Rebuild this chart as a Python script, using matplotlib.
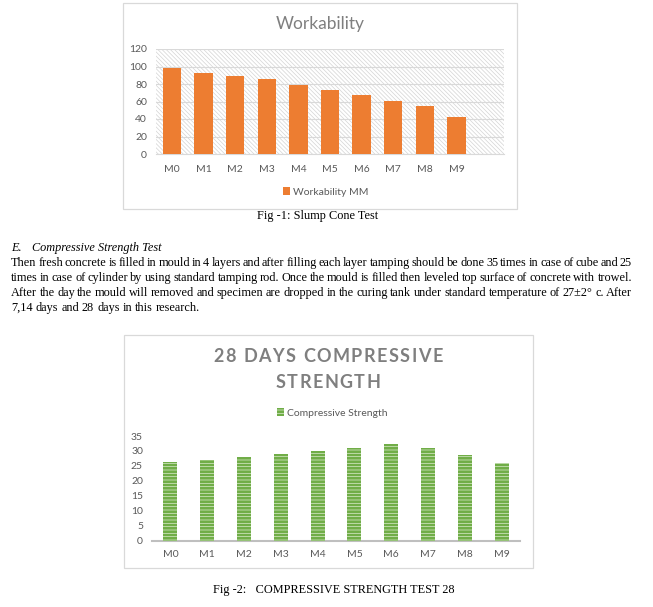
import matplotlib
matplotlib.use("Agg")
import matplotlib.pyplot as plt
from matplotlib.patches import Rectangle

mixes = ["M0", "M1", "M2", "M3", "M4", "M5", "M6", "M7", "M8", "M9"]
workability = [98, 93, 89, 86, 79, 73, 67, 61, 55, 42]
strength = [26.3, 27.0, 28.0, 29.0, 30.0, 31.0, 32.3, 31.0, 28.6, 26.0]
work_ticks = [0, 20, 40, 60, 80, 100, 120]
strength_ticks = [0, 5, 10, 15, 20, 25, 30, 35]

body_lines = [
    "Then fresh concrete is filled in mould in 4 layers and after filling each layer tamping should be done 35 times in case of cube and 25",
    "times in case of cylinder by using standard tamping rod. Once the mould is filled then leveled top surface of concrete with trowel.",
    "After the day the mould will removed and specimen are dropped in the curing tank under standard temperature of 27\u00b12\u00b0 c. After",
    "7,14 days and 28 days in this research.",
]

W, H = 653, 607
GREY_TXT = "#595959"
GRID = "#d9d9d9"
ORANGE = "#ED7D31"
GREEN = "#70AD47"
SANS = ["Lato", "DejaVu Sans"]
SERIF = ["Liberation Serif", "DejaVu Serif"]
BODY_SIZE = 8.8

fig = plt.figure(figsize=(W / 100, H / 100), dpi=100)
fig.patch.set_facecolor("white")
renderer = fig.canvas.get_renderer()


def px_axes(x0, y0, x1, y1):
    # pixel box (top-left origin) -> figure axes
    return fig.add_axes([x0 / W, 1 - y1 / H, (x1 - x0) / W, (y1 - y0) / H])


def px_box(x0, y0, x1, y1):
    fig.add_artist(Rectangle((x0 / W, 1 - y1 / H), (x1 - x0) / W, (y1 - y0) / H,
                             transform=fig.transFigure, facecolor="none",
                             edgecolor=GRID, linewidth=0.9))


def fy(y):
    return 1 - y / H


def spaced_text(xc, y, s, track, **kw):
    # letter-spaced text centred on xc (pixels)
    texts = [fig.text(0, fy(y), c, ha="left", va="center", **kw) for c in s]
    widths = [t.get_window_extent(renderer).width for t in texts]
    total = sum(widths) + track * (len(s) - 1)
    x = xc - total / 2
    for t, w in zip(texts, widths):
        t.set_x(x / W)
        x += w + track


# ---- Fig 1: workability ----
px_box(123, 3, 517, 209)
ax1 = px_axes(156, 49, 504, 154)
plt.rcParams["hatch.linewidth"] = 0.5
ax1.add_patch(Rectangle((0, 0), 1, 1, transform=ax1.transAxes, facecolor="white",
                        edgecolor="#d4d4d4", hatch="\\\\\\\\\\\\\\\\", linewidth=0, zorder=0))
ax1.bar(range(len(mixes)), workability, width=0.58, color=ORANGE, zorder=3,
        label="Workability MM")
ax1.set_xlim(-0.5, 10.5)
ax1.set_ylim(0, 120)
ax1.set_yticks(work_ticks)
ax1.set_xticks(range(len(mixes)))
ax1.set_xticklabels(mixes)
ax1.yaxis.grid(True, color=GRID, linewidth=0.8, zorder=1)
ax1.set_axisbelow(True)
for s in ["top", "right", "left"]:
    ax1.spines[s].set_visible(False)
ax1.spines["bottom"].set_color(GRID)
ax1.tick_params(length=0, colors=GREY_TXT, labelsize=7.5)
ax1.tick_params(axis="x", pad=8)
ax1.tick_params(axis="y", pad=6.5)
for lab in ax1.get_xticklabels() + ax1.get_yticklabels():
    lab.set_family(SANS)
fig.text(320 / W, fy(24), "Workability", ha="center", va="center", fontsize=12.5,
         color="#7f7f7f", family=SANS)
ax1.legend(loc="center", bbox_to_anchor=(326 / W, fy(192)), bbox_transform=fig.transFigure,
           frameon=False, handlelength=0.7, handleheight=0.7, handletextpad=0.3,
           prop={"family": SANS, "size": 7.5}, labelcolor=GREY_TXT)

fig.text(318 / W, fy(216), "Fig -1: Slump Cone Test", ha="center", va="center",
         fontsize=BODY_SIZE, family=SERIF)

# ---- body text ----
fig.text(11 / W, fy(248), "E.", ha="left", va="center", fontsize=BODY_SIZE,
         family=SERIF, style="italic")
fig.text(32 / W, fy(248), "Compressive Strength Test", ha="left", va="center",
         fontsize=BODY_SIZE, family=SERIF, style="italic")

left, right = 11, 632
line_y = [263, 278, 293, 308]
for i, line in enumerate(body_lines):
    words = line.split(" ")
    texts = [fig.text(0, fy(line_y[i]), w, ha="left", va="center", fontsize=BODY_SIZE,
                      family=SERIF) for w in words]
    widths = [t.get_window_extent(renderer).width for t in texts]
    if i < len(body_lines) - 1:
        gap = (right - left - sum(widths)) / (len(words) - 1)
    else:
        gap = 3.0
    x = left
    for t, w in zip(texts, widths):
        t.set_x(x / W)
        x += w + gap

# ---- Fig 2: compressive strength ----
px_box(124, 335, 533, 568)
ax2 = px_axes(152, 436, 520, 540.7)
plt.rcParams["hatch.linewidth"] = 1.9
ax2.bar(range(len(mixes)), strength, width=0.38, facecolor="#dcebcf", edgecolor=GREEN,
        hatch="-----", linewidth=0, zorder=3, label="Compressive Strength")
ax2.set_xlim(-0.5, 9.5)
ax2.set_ylim(0, 35)
ax2.set_yticks(strength_ticks)
ax2.set_xticks(range(len(mixes)))
ax2.set_xticklabels(mixes)
for s in ["top", "right", "left"]:
    ax2.spines[s].set_visible(False)
ax2.spines["bottom"].set_color("#bfbfbf")
ax2.spines["bottom"].set_linewidth(1.5)
ax2.tick_params(length=0, colors=GREY_TXT, labelsize=7.5)
ax2.tick_params(axis="x", pad=7)
ax2.tick_params(axis="y", pad=6.5)
for lab in ax2.get_xticklabels() + ax2.get_yticklabels():
    lab.set_family(SANS)
title_kw = dict(fontsize=13, fontweight="bold", color="#7f7f7f", family=SANS)
spaced_text(328, 357, "28 DAYS COMPRESSIVE", 1.5, **title_kw)
spaced_text(328, 383, "STRENGTH", 1.5, **title_kw)
ax2.legend(loc="center", bbox_to_anchor=(332 / W, fy(413)), bbox_transform=fig.transFigure,
           frameon=False, handlelength=0.7, handleheight=0.7, handletextpad=0.3,
           prop={"family": SANS, "size": 7.5}, labelcolor=GREY_TXT)

fig.text(213 / W, fy(590), "Fig -2:   COMPRESSIVE STRENGTH TEST 28", ha="left", va="center",
         fontsize=BODY_SIZE, family=SERIF)

fig.savefig("out.png", dpi=100)
